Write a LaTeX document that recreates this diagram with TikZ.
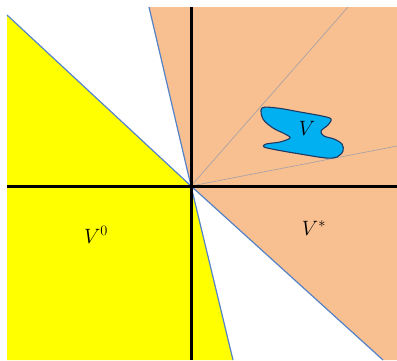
\documentclass[tikz,border=0pt]{standalone}
\usetikzlibrary{calc}
\definecolor{conorange}{RGB}{248,191,144}
\definecolor{conyellow}{RGB}{255,255,0}
\definecolor{edgeblue}{RGB}{84,130,200}
\definecolor{blobfill}{RGB}{0,176,240}
\definecolor{blobedge}{RGB}{31,56,100}
\definecolor{raygray}{RGB}{160,160,170}
\tikzset{
  conedge/.style={draw=edgeblue, line width=1.2pt},
  axisline/.style={draw=black, line width=3pt},
  tangray/.style={draw=raygray, line width=0.6pt},
  lbl/.style={inner sep=0pt, font=\fontsize{20}{23}\selectfont},
}
\begin{document}
\begin{tikzpicture}[x=1pt,y=-1pt]
\useasboundingbox (0,0) rectangle (397,360);
\coordinate (O) at (191,186);
\coordinate (Atop) at (7,15);
\coordinate (Abot) at (383,360);
\coordinate (Btop) at (149,7);
\coordinate (Bbot) at (233,360);
\coordinate (G1) at (348,7);
\coordinate (G2) at (397,146);
% regions
\fill[conorange] (Btop) -- (O) -- (Abot) -- (397,360) -- (397,7) -- cycle;
\fill[conyellow] (Atop) -- (O) -- (Bbot) -- (7,360) -- cycle;
% tangent rays
\draw[tangray] (O) -- (G1);
\draw[tangray] (O) -- (G2);
% cone edges
\draw[conedge] (Atop) -- (O) -- (Abot);
\draw[conedge] (Btop) -- (O) -- (Bbot);
% axes
\draw[axisline] (7,186) -- (397,186);
\draw[axisline] (191,7) -- (191,360);
% blob V
\draw[draw=blobedge, line width=1.1pt, fill=blobfill]
  plot[smooth cycle, tension=0.55] coordinates {
    (262,108) (277,108) (300,112) (322,116) (331,119)
    (328,125) (321,131) (324,136) (334,139) (342,144)
    (343,151) (337,157) (326,158) (300,154) (277,150)
    (264,147) (266,144) (280,142) (290,138)
    (285,134) (273,128) (263,119)};
% labels
\node[lbl] (lV) at (307,128) {$V$};
\node[lbl] (lV0) at (96,235) {$V^0$};
\node[lbl] (lVs) at (314,228) {$V^*$};
\end{tikzpicture}
\end{document}
